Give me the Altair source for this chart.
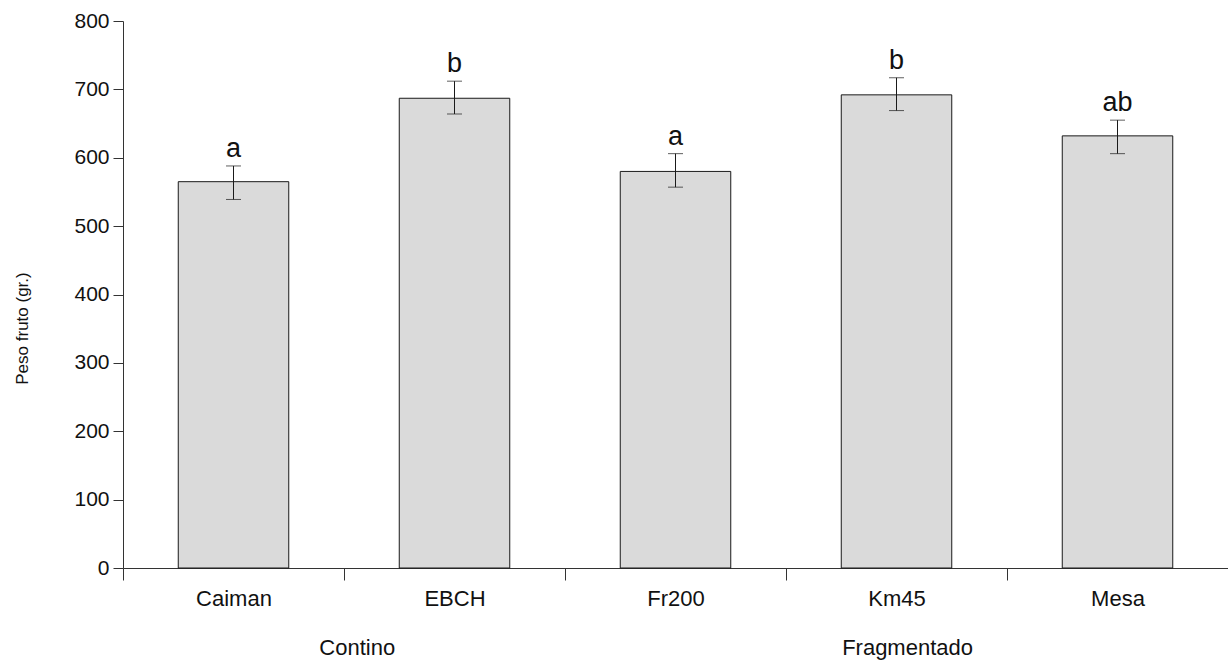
import altair as alt
import pandas as pd

categories = ["Caiman", "EBCH", "Fr200", "Km45", "Mesa"]
means = [565, 687, 580, 692, 632]
upper = [588, 712, 606, 717, 655]
lower = [539, 664, 557, 669, 606]
letters = ["a", "b", "a", "b", "ab"]
groups = ["Contino", "Fragmentado"]
group_pos = [1.06, 3.55]

df = pd.DataFrame({"cat": categories, "mean": means, "upper": upper,
                   "lower": lower, "letter": letters})
gdf = pd.DataFrame({"group": groups, "pos": group_pos})

W, H = 1105, 547
FONT = "Liberation Sans"

xscale = alt.Scale(paddingInner=0, paddingOuter=0)
xenc = alt.X("cat:N", sort=categories, title=None, scale=xscale,
             axis=alt.Axis(labelAngle=0, labelFontSize=22, labelColor="#111",
                           labelFont=FONT, tickBand="extent", tickSize=12,
                           tickColor="#333", domainColor="#333", labelPadding=8,
                           grid=False))
yscale = alt.Scale(domain=[0, 800], nice=False)

bars = alt.Chart(df).mark_bar(fill="#dadada", stroke="#1a1a1a", strokeWidth=1,
                              width=alt.RelativeBandSize(0.5)).encode(
    x=xenc,
    y=alt.Y("mean:Q", scale=yscale, title="Peso fruto (gr.)",
            axis=alt.Axis(values=list(range(0, 801, 100)), labelFontSize=21,
                          labelColor="#111", labelFont=FONT, tickSize=10,
                          tickColor="#333", domainColor="#333", labelPadding=4,
                          titleFontSize=17, titleFont=FONT, titleFontWeight="normal",
                          titleColor="#111", titlePadding=42, titleY=307,
                          grid=False)),
)

err = alt.Chart(df).mark_rule(color="#1a1a1a", strokeWidth=1).encode(
    x=alt.X("cat:N", sort=categories),
    y=alt.Y("lower:Q", scale=yscale),
    y2="upper:Q",
)
cap_hi = alt.Chart(df).mark_tick(color="#1a1a1a", thickness=1, size=15, orient="horizontal").encode(
    x=alt.X("cat:N", sort=categories),
    y=alt.Y("upper:Q", scale=yscale),
)
cap_lo = alt.Chart(df).mark_tick(color="#1a1a1a", thickness=1, size=15, orient="horizontal").encode(
    x=alt.X("cat:N", sort=categories),
    y=alt.Y("lower:Q", scale=yscale),
)
txt = alt.Chart(df).mark_text(fontSize=27, font=FONT, color="#111", baseline="alphabetic", dy=-9).encode(
    x=alt.X("cat:N", sort=categories),
    y=alt.Y("upper:Q", scale=yscale),
    text="letter:N",
)

main = alt.layer(bars, err, cap_hi, cap_lo, txt)

glab = alt.Chart(gdf).mark_text(fontSize=22, font=FONT, color="#111", baseline="middle").encode(
    x=alt.X("pos:Q", scale=alt.Scale(domain=[0, 5], nice=False), axis=None),
    y=alt.value(H + 80),
    text="group:N",
)

chart = alt.layer(main, glab).resolve_scale(x="independent").properties(
    width=W, height=H,
    autosize=alt.AutoSizeParams(type="none"),
    padding={"left": 123, "top": 21, "right": 0, "bottom": 92},
    background="white",
).configure_view(stroke=None)

chart.save("out.html", embed_options={"renderer": "svg", "actions": False})
